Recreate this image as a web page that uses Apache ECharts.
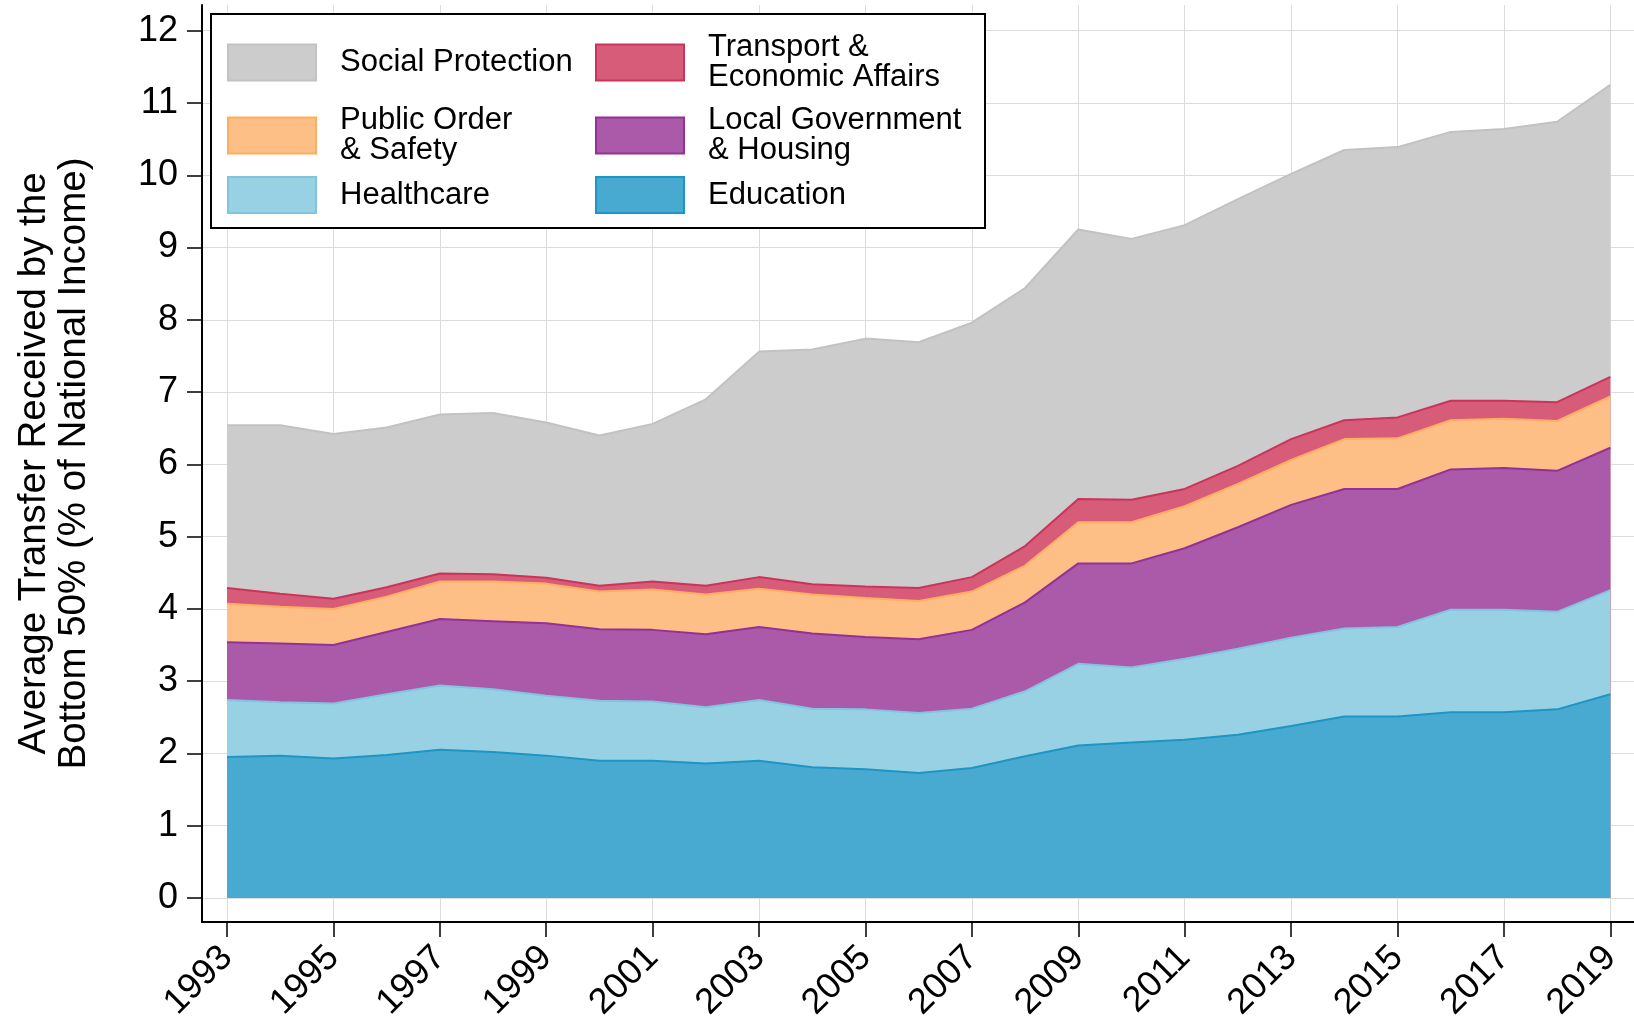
<!DOCTYPE html>
<html>
<head>
<meta charset="utf-8">
<title>Transfers received by the bottom 50%</title>
<script src="https://cdn.jsdelivr.net/npm/echarts@6/dist/echarts.min.js"></script>
<style>
  html, body { margin: 0; padding: 0; background: #fff; }
  #chart { width: 1634px; height: 1018px; }
</style>
</head>
<body>
<div id="chart"></div>
<script>
var years = [1993, 1994, 1995, 1996, 1997, 1998, 1999, 2000, 2001, 2002, 2003, 2004, 2005, 2006,
  2007, 2008, 2009, 2010, 2011, 2012, 2013, 2014, 2015, 2016, 2017, 2018, 2019]

// values in % of national income, stacked bottom to top
var education = [1.95, 1.97, 1.93, 1.98, 2.05, 2.02, 1.97, 1.90, 1.90, 1.86, 1.90, 1.81, 1.78, 1.73,
  1.80, 1.96, 2.11, 2.15, 2.19, 2.26, 2.38, 2.51, 2.51, 2.57, 2.57, 2.61, 2.82]
var healthcare = [0.79, 0.74, 0.76, 0.84, 0.89, 0.87, 0.83, 0.83, 0.82, 0.78, 0.84, 0.81, 0.83, 0.83,
  0.82, 0.90, 1.13, 1.04, 1.12, 1.19, 1.22, 1.22, 1.24, 1.42, 1.42, 1.35, 1.44]
var localGov = [0.80, 0.81, 0.81, 0.86, 0.92, 0.94, 1.00, 0.99, 0.99, 1.01, 1.01, 1.04, 1.00, 1.02,
  1.09, 1.23, 1.39, 1.44, 1.53, 1.68, 1.84, 1.93, 1.91, 1.94, 1.96, 1.95, 1.97]
var publicOrder = [0.53, 0.51, 0.50, 0.49, 0.52, 0.55, 0.55, 0.52, 0.56, 0.55, 0.53, 0.54, 0.54, 0.53,
  0.53, 0.51, 0.57, 0.57, 0.58, 0.60, 0.62, 0.69, 0.70, 0.68, 0.68, 0.69, 0.71]
var transport = [0.22, 0.18, 0.14, 0.13, 0.11, 0.10, 0.08, 0.08, 0.11, 0.12, 0.16, 0.14, 0.16, 0.18,
  0.20, 0.27, 0.32, 0.31, 0.24, 0.25, 0.29, 0.26, 0.29, 0.27, 0.25, 0.26, 0.27]
var socialProtection = [2.25, 2.33, 2.28, 2.21, 2.20, 2.23, 2.15, 2.08, 2.18, 2.58, 3.12, 3.25, 3.43, 3.40,
  3.52, 3.57, 3.73, 3.61, 3.65, 3.69, 3.67, 3.74, 3.74, 3.72, 3.76, 3.88, 4.04]

var tickYears = [1993, 1995, 1997, 1999, 2001, 2003, 2005, 2007, 2009, 2011, 2013, 2015, 2017, 2019]
var tickValues = [0, 1, 2, 3, 4, 5, 6, 7, 8, 9, 10, 11, 12]

// bottom to top
var layers = [
  { name: 'Education', label: 'Education', values: education, fill: '#48aad0', edge: '#1c96c4' },
  { name: 'Healthcare', label: 'Healthcare', values: healthcare, fill: '#99d1e4', edge: '#80c4de' },
  { name: 'Local Government & Housing', label: 'Local Government\n& Housing', values: localGov, fill: '#ab5aaa', edge: '#93309a' },
  { name: 'Public Order & Safety', label: 'Public Order\n& Safety', values: publicOrder, fill: '#fdbf85', edge: '#fdae61' },
  { name: 'Transport & Economic Affairs', label: 'Transport &\nEconomic Affairs', values: transport, fill: '#d75c7a', edge: '#cc3358' },
  { name: 'Social Protection', label: 'Social Protection', values: socialProtection, fill: '#cccccc', edge: '#c2c2c2' }
]

var font = 'Liberation Sans, Arial, Helvetica, sans-serif'
var byName = {}

// running totals so each band sits on the ones below it
var running = years.map(function () { return 0 })
var series = layers.map(function (l, k) {
  byName[l.name] = l
  running = running.map(function (s, i) { return s + l.values[i] })
  var tops = running.slice()
  return {
    name: l.name,
    type: 'line',
    symbol: 'none',
    silent: true,
    lineStyle: { color: l.edge, width: 2 },
    itemStyle: { color: l.fill },
    areaStyle: { color: l.fill, opacity: 1, origin: 0 },
    data: years.map(function (y, i) { return [y, +tops[i].toFixed(3)] })
  }
})
// draw the top band first so lower bands paint over it
series.reverse()

// legend laid out as three rows of two, like the original
function legendRow(names, top) {
  return {
    top: top,
    left: 227,
    orient: 'horizontal',
    padding: 0,
    itemGap: 15,
    itemWidth: 88,
    itemHeight: 36,
    selectedMode: false,
    z: 20,
    icon: 'rect',
    formatter: function (n) { return byName[n].label },
    textStyle: { fontFamily: font, fontSize: 31, lineHeight: 30, color: '#000', width: 240, padding: [5, 0, 0, 19] },
    data: names.map(function (n) {
      return { name: n, icon: 'rect', itemStyle: { color: byName[n].fill, borderColor: byName[n].edge, borderWidth: 2 } }
    })
  }
}

var option = {
  backgroundColor: '#ffffff',
  animation: false,
  grid: { left: 202, right: 0, top: 5, bottom: 96, outerBoundsMode: 'none' },
  legend: [
    legendRow(['Social Protection', 'Transport & Economic Affairs'], 30),
    legendRow(['Public Order & Safety', 'Local Government & Housing'], 103),
    legendRow(['Healthcare', 'Education'], 176)
  ],
  graphic: [{
    type: 'rect',
    z: 10,
    shape: { x: 211, y: 14, width: 774, height: 214 },
    style: { fill: '#ffffff', stroke: '#000000', lineWidth: 2 }
  }],
  xAxis: {
    type: 'value',
    min: 1992.53,
    max: 2019.445,
    axisLine: { show: true, onZero: false, lineStyle: { color: '#000', width: 2 } },
    axisTick: { show: true, length: 15, customValues: tickYears, lineStyle: { color: '#000', width: 1.5 } },
    axisLabel: {
      customValues: tickYears,
      rotate: 45,
      margin: 30,
      fontFamily: font,
      fontSize: 36,
      color: '#000',
      formatter: function (v) { return String(v) }
    },
    splitLine: { show: true, lineStyle: { color: '#dcdcdc', width: 1 } }
  },
  yAxis: {
    type: 'value',
    min: -0.332,
    max: 12.356,
    name: 'Average Transfer Received by the\nBottom 50% (% of National Income)',
    nameLocation: 'middle',
    nameGap: 108,
    nameTextStyle: { fontFamily: font, fontSize: 38.5, lineHeight: 40, color: '#000' },
    axisLine: { show: true, onZero: false, lineStyle: { color: '#000', width: 2 } },
    axisTick: { show: true, length: 15, customValues: tickValues, lineStyle: { color: '#000', width: 1.5 } },
    axisLabel: { customValues: tickValues, margin: 24, fontFamily: font, fontSize: 36, color: '#000' },
    splitLine: { show: true, lineStyle: { color: '#dcdcdc', width: 1 } }
  },
  series: series
}

var myChart = echarts.init(document.getElementById('chart'))
myChart.setOption(option)
</script>
</body>
</html>
